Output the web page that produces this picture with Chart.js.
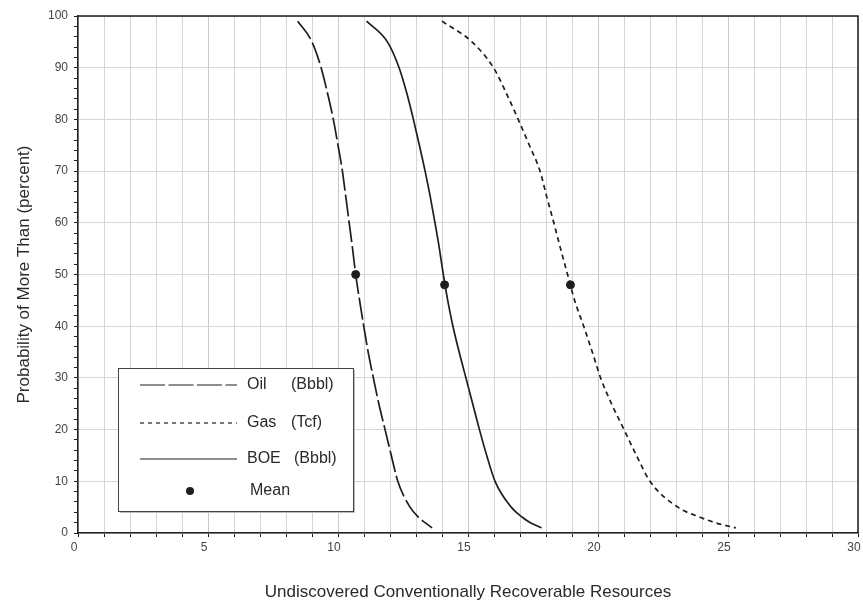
<!DOCTYPE html>
<html>
<head>
<meta charset="utf-8">
<script src="https://cdn.jsdelivr.net/npm/chart.js@4.4.1/dist/chart.umd.min.js"></script>
<style>
  html, body { margin: 0; padding: 0; background: #fff; }
  canvas { display: block; }
</style>
</head>
<body>
<canvas id="chart" width="863" height="601"></canvas>
<script>
// probability levels (percent) and the resource amount read at each level
const probLevels = [99, 95, 90, 85, 80, 75, 70, 65, 60, 55, 50, 45, 40, 35, 30, 25, 20, 15, 10, 5, 3, 2, 1];
const oilValues = [8.45, 9.0, 9.35, 9.6, 9.82, 10.0, 10.17, 10.3, 10.43, 10.56, 10.68, 10.83, 10.99, 11.16, 11.36, 11.57, 11.81, 12.05, 12.3, 12.77, 13.1, 13.35, 13.62];
const gasValues = [14.0, 15.15, 15.98, 16.48, 16.93, 17.36, 17.77, 18.03, 18.3, 18.56, 18.83, 19.1, 19.45, 19.78, 20.1, 20.52, 21.0, 21.48, 22.0, 23.07, 23.95, 24.5, 25.3];
const boeValues = [11.1, 11.9, 12.35, 12.65, 12.9, 13.13, 13.35, 13.55, 13.73, 13.9, 14.05, 14.22, 14.42, 14.66, 14.92, 15.18, 15.44, 15.72, 16.04, 16.66, 17.1, 17.4, 17.83];
const meanValues = [10.68, 18.94, 14.1];
const meanProbs = [50, 48, 48];
const xTickLabels = ['0', '5', '10', '15', '20', '25', '30'];
const yTickLabels = ['0', '10', '20', '30', '40', '50', '60', '70', '80', '90', '100'];
const legendItems = [['Oil', '(Bbbl)'], ['Gas', '(Tcf)'], ['BOE', '(Bbbl)'], ['Mean', '']];

const INK = '#1e1e1e';
const GRID = '#d6d6d6';
const FONT = '"Liberation Sans", Arial, sans-serif';

const toPoints = (vals) => vals.map((v, i) => ({ x: v, y: probLevels[i] }));

const frame = {
  id: 'frame',
  afterDraw(chart) {
    const { ctx, chartArea: a } = chart;
    ctx.save();
    ctx.strokeStyle = INK;
    ctx.lineWidth = 1.5;
    ctx.beginPath();
    ctx.moveTo(a.left, a.top);
    ctx.lineTo(a.right, a.top);
    ctx.lineTo(a.right, a.bottom);
    ctx.stroke();
    ctx.restore();
  }
};

const boxLegend = {
  id: 'boxLegend',
  afterDraw(chart) {
    const { ctx, chartArea: a } = chart;
    const left = a.left + 40, top = a.top + 352, w = 235, h = 143;
    ctx.save();
    ctx.fillStyle = '#bdbdbd';
    ctx.fillRect(left + 2, top + 2, w, h);
    ctx.fillStyle = '#fff';
    ctx.fillRect(left, top, w, h);
    ctx.strokeStyle = '#444';
    ctx.lineWidth = 1;
    ctx.strokeRect(left + 0.5, top + 0.5, w, h);

    const dashes = [[25, 3.5], [4, 4], []];
    const rows = [17, 55, 91, 123];
    ctx.font = '16px ' + FONT;
    ctx.textBaseline = 'middle';
    legendItems.forEach((item, i) => {
      const y = top + rows[i];
      ctx.fillStyle = '#2a2a2a';
      if (i < 3) {
        ctx.strokeStyle = INK;
        ctx.lineWidth = 1.2;
        ctx.setLineDash(dashes[i]);
        ctx.beginPath();
        ctx.moveTo(left + 22, y);
        ctx.lineTo(left + 119, y);
        ctx.stroke();
        ctx.setLineDash([]);
        ctx.fillText(item[0], left + 129, y);
        ctx.fillText(item[1], left + (i === 2 ? 176 : 173), y);
      } else {
        ctx.fillStyle = INK;
        ctx.beginPath();
        ctx.arc(left + 72, y, 4, 0, Math.PI * 2);
        ctx.fill();
        ctx.fillStyle = '#2a2a2a';
        ctx.fillText(item[0], left + 132, y);
      }
    });
    ctx.restore();
  }
};

const lineStyle = { borderColor: INK, borderWidth: 1.7, pointRadius: 0, cubicInterpolationMode: 'monotone', fill: false };

new Chart(document.getElementById('chart'), {
  type: 'line',
  data: {
    datasets: [
      { label: 'Oil (Bbbl)', data: toPoints(oilValues), borderDash: [22, 4], ...lineStyle },
      { label: 'Gas (Tcf)', data: toPoints(gasValues), borderDash: [5, 4], ...lineStyle },
      { label: 'BOE (Bbbl)', data: toPoints(boeValues), ...lineStyle },
      {
        type: 'scatter', label: 'Mean',
        data: meanValues.map((v, i) => ({ x: v, y: meanProbs[i] })),
        pointRadius: 4, pointBackgroundColor: INK, pointBorderColor: INK, showLine: false
      }
    ]
  },
  options: {
    responsive: false,
    animation: false,
    devicePixelRatio: 1,
    layout: { padding: { top: 16, right: 3, left: 0, bottom: 0 } },
    plugins: { legend: { display: false }, tooltip: { enabled: false } },
    scales: {
      x: {
        type: 'linear', min: 0, max: 30,
        afterFit: (s) => { s.height = 68; s.paddingRight = 0; s.paddingLeft = 0; },
        ticks: {
          stepSize: 1, autoSkip: false, maxRotation: 0, padding: 3, labelOffset: -4,
          color: '#444', font: { family: FONT, size: 12 },
          callback: (v) => (v % 5 === 0 ? xTickLabels[v / 5] : '')
        },
        grid: {
          color: (c) => (c.tick && c.tick.value % 5 === 0 ? '#c8c8c8' : GRID),
          tickColor: INK, tickLength: 4
        },
        border: { color: INK, width: 1.5 },
        title: {
          display: true, text: 'Undiscovered Conventionally Recoverable Resources',
          color: '#2a2a2a', font: { family: FONT, size: 17, lineHeight: 1 },
          padding: { top: 0, bottom: 0 }
        }
      },
      y: {
        type: 'linear', min: 0, max: 100,
        afterFit: (s) => { s.width = 78; },
        ticks: {
          stepSize: 2, autoSkip: false, padding: 6,
          color: '#444', font: { family: FONT, size: 12 },
          callback: (v) => (v % 10 === 0 ? yTickLabels[v / 10] : '')
        },
        grid: {
          color: (c) => (c.tick && c.tick.value % 10 === 0 ? GRID : 'rgba(0,0,0,0)'),
          tickColor: INK, tickLength: 4
        },
        border: { color: INK, width: 1.5 },
        title: {
          display: true, text: 'Probability of More Than (percent)',
          color: '#2a2a2a', font: { family: FONT, size: 17, lineHeight: 1 },
          padding: { top: 16, bottom: 0 }
        }
      }
    }
  },
  plugins: [frame, boxLegend]
});
</script>
</body>
</html>
